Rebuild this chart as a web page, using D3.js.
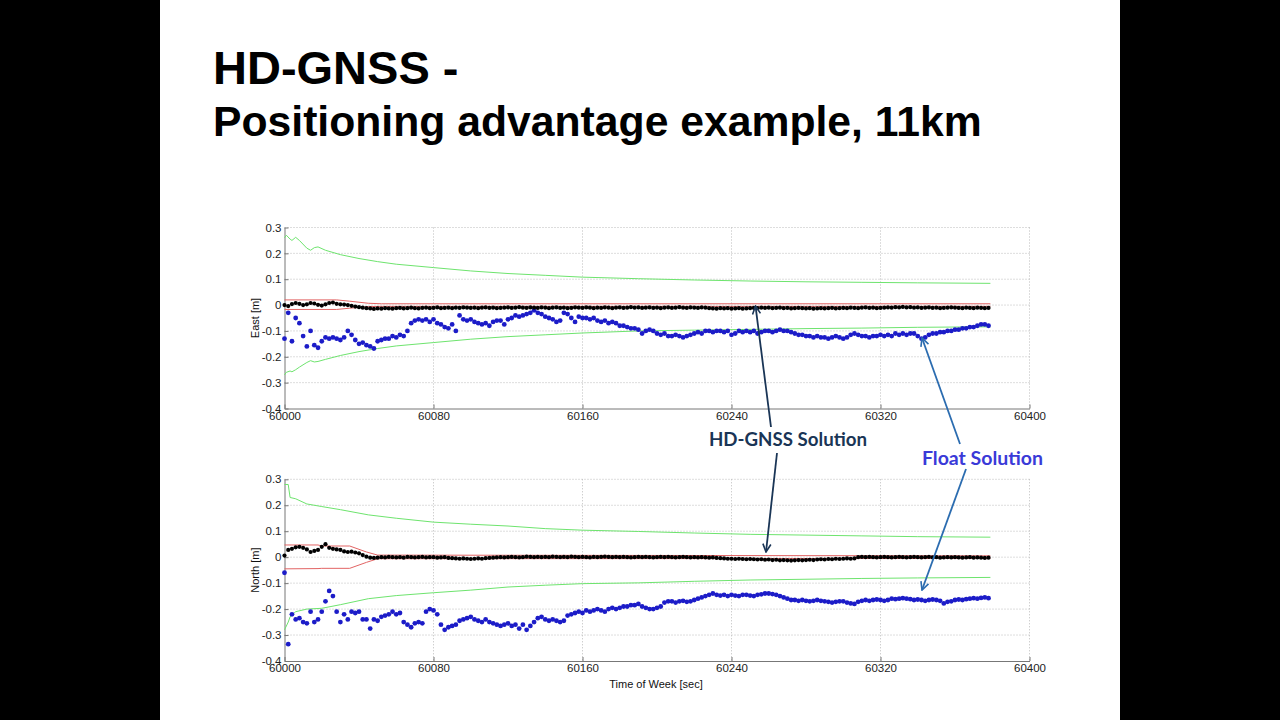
<!DOCTYPE html>
<html>
<head>
<meta charset="utf-8">
<script src="https://cdn.jsdelivr.net/npm/d3@7"></script>
<style>
  body { margin: 0; background: #000; }
  svg { display: block; }
  .tick text { font-family: "Liberation Sans", Arial, sans-serif; font-size: 11.5px; fill: #222; }
  .labels { font-family: "Liberation Sans", Arial, sans-serif; font-size: 11px; fill: #111; }
</style>
</head>
<body>
<div id="vis"></div>
<script>
const W = 1280, H = 720;

// time of week starts at 60000, HD-GNSS and float epochs every 2 s
const t0 = 60000;
const step = 2;

const eastFloat = [
  -0.13, -0.03, -0.14, -0.05, -0.07, -0.12, -0.16, -0.10, -0.155, -0.165,
  -0.14, -0.125, -0.13, -0.125, -0.13, -0.135, -0.125, -0.10, -0.115, -0.135,
  -0.15, -0.145, -0.155, -0.16, -0.168, -0.14, -0.135, -0.13, -0.13, -0.12,
  -0.125, -0.115, -0.12, -0.10, -0.07, -0.06, -0.055, -0.06, -0.055, -0.065,
  -0.055, -0.07, -0.075, -0.085, -0.09, -0.075, -0.10, -0.04, -0.055, -0.06,
  -0.055, -0.065, -0.07, -0.075, -0.07, -0.08, -0.065, -0.06, -0.06, -0.075,
  -0.055, -0.05, -0.04, -0.045, -0.04, -0.035, -0.03, -0.02, -0.03, -0.035,
  -0.045, -0.05, -0.055, -0.065, -0.06, -0.03, -0.035, -0.05, -0.065, -0.045,
  -0.05, -0.05, -0.055, -0.05, -0.06, -0.065, -0.06, -0.07, -0.065, -0.07,
  -0.08, -0.08, -0.085, -0.09, -0.09, -0.095, -0.11, -0.10, -0.095, -0.10,
  -0.11, -0.115, -0.11, -0.12, -0.12, -0.115, -0.12, -0.125, -0.12, -0.115,
  -0.11, -0.105, -0.11, -0.10, -0.10, -0.105, -0.10, -0.10, -0.105, -0.10,
  -0.115, -0.11, -0.10, -0.105, -0.10, -0.105, -0.10, -0.11, -0.105, -0.10,
  -0.10, -0.105, -0.10, -0.095, -0.10, -0.10, -0.105, -0.11, -0.115, -0.115,
  -0.12, -0.12, -0.125, -0.12, -0.125, -0.125, -0.13, -0.125, -0.12, -0.125,
  -0.13, -0.125, -0.115, -0.11, -0.115, -0.12, -0.12, -0.125, -0.12, -0.12,
  -0.115, -0.12, -0.115, -0.12, -0.11, -0.115, -0.11, -0.115, -0.11, -0.11,
  -0.12, -0.13, -0.125, -0.115, -0.11, -0.11, -0.105, -0.105, -0.10, -0.10,
  -0.095, -0.095, -0.09, -0.09, -0.085, -0.085, -0.08, -0.075, -0.075, -0.08
];

const eastHD = [
  0.000, -0.004, 0.004, 0.008, 0.005, 0.000, 0.003, 0.008, 0.006, 0.001,
  -0.002, 0.003, 0.008, 0.010, 0.005, 0.003, 0.002, 0.000, -0.003, -0.006,
  -0.008, -0.010, -0.012, -0.013, -0.015, -0.013, -0.014, -0.012, -0.013, -0.014,
  -0.012, -0.011, -0.013, -0.012, -0.010, -0.012, -0.013, -0.011, -0.010, -0.012,
  -0.011, -0.009, -0.012, -0.011, -0.010, -0.012, -0.010, -0.011, -0.009, -0.010,
  -0.011, -0.010, -0.012, -0.010, -0.009, -0.011, -0.010, -0.012, -0.011, -0.010,
  -0.009, -0.011, -0.010, -0.008, -0.010, -0.011, -0.009, -0.010, -0.011, -0.009,
  -0.010, -0.012, -0.010, -0.009, -0.011, -0.010, -0.012, -0.011, -0.009, -0.010,
  -0.011, -0.009, -0.010, -0.012, -0.010, -0.011, -0.009, -0.010, -0.012, -0.010,
  -0.009, -0.011, -0.010, -0.008, -0.010, -0.009, -0.011, -0.010, -0.009, -0.011,
  -0.010, -0.012, -0.010, -0.009, -0.011, -0.010, -0.008, -0.010, -0.011, -0.009,
  -0.010, -0.011, -0.009, -0.010, -0.012, -0.013, -0.014, -0.012, -0.013, -0.012,
  -0.014, -0.013, -0.012, -0.014, -0.013, -0.012, -0.011, -0.012, -0.010, -0.011,
  -0.010, -0.012, -0.011, -0.010, -0.012, -0.011, -0.013, -0.012, -0.011, -0.012,
  -0.013, -0.012, -0.014, -0.013, -0.012, -0.013, -0.012, -0.011, -0.013, -0.012,
  -0.011, -0.012, -0.010, -0.011, -0.012, -0.010, -0.009, -0.011, -0.010, -0.012,
  -0.011, -0.010, -0.009, -0.010, -0.008, -0.009, -0.007, -0.009, -0.008, -0.010,
  -0.009, -0.011, -0.010, -0.009, -0.011, -0.010, -0.012, -0.011, -0.010, -0.009,
  -0.010, -0.011, -0.012, -0.010, -0.011, -0.012, -0.010, -0.011, -0.012, -0.011
];

const northFloat = [
  -0.06, -0.335, -0.22, -0.24, -0.235, -0.25, -0.255, -0.21, -0.25, -0.24,
  -0.21, -0.17, -0.13, -0.15, -0.21, -0.25, -0.22, -0.24, -0.21, -0.215,
  -0.21, -0.24, -0.24, -0.275, -0.24, -0.245, -0.23, -0.225, -0.22, -0.21,
  -0.22, -0.215, -0.25, -0.26, -0.27, -0.255, -0.25, -0.255, -0.21, -0.20,
  -0.205, -0.22, -0.26, -0.28, -0.27, -0.265, -0.26, -0.245, -0.24, -0.235,
  -0.23, -0.24, -0.245, -0.25, -0.24, -0.25, -0.255, -0.26, -0.265, -0.26,
  -0.255, -0.265, -0.26, -0.275, -0.26, -0.28, -0.265, -0.25, -0.235, -0.23,
  -0.24, -0.245, -0.24, -0.245, -0.25, -0.245, -0.225, -0.22, -0.215, -0.21,
  -0.215, -0.205, -0.21, -0.205, -0.20, -0.205, -0.21, -0.20, -0.195, -0.20,
  -0.195, -0.19, -0.19, -0.185, -0.185, -0.18, -0.19, -0.195, -0.20, -0.20,
  -0.195, -0.19, -0.175, -0.17, -0.17, -0.175, -0.17, -0.168, -0.172, -0.17,
  -0.165, -0.16, -0.155, -0.15, -0.145, -0.14, -0.145, -0.148, -0.145, -0.15,
  -0.145, -0.148, -0.15, -0.145, -0.145, -0.148, -0.15, -0.145, -0.143, -0.14,
  -0.14, -0.142, -0.145, -0.15, -0.155, -0.16, -0.165, -0.165, -0.168, -0.165,
  -0.168, -0.17, -0.168, -0.165, -0.168, -0.17, -0.172, -0.175, -0.172, -0.17,
  -0.17, -0.175, -0.178, -0.18, -0.172, -0.168, -0.165, -0.168, -0.165, -0.163,
  -0.165, -0.168, -0.165, -0.16, -0.162, -0.16, -0.158, -0.16, -0.162, -0.165,
  -0.163, -0.165, -0.168, -0.165, -0.163, -0.165, -0.168, -0.178, -0.172, -0.17,
  -0.165, -0.163, -0.165, -0.162, -0.16, -0.158, -0.16, -0.157, -0.155, -0.158
];

const northHD = [
  0.006, 0.028, 0.032, 0.038, 0.040, 0.036, 0.030, 0.020, 0.024, 0.028,
  0.040, 0.050, 0.036, 0.032, 0.030, 0.028, 0.022, 0.020, 0.021, 0.018,
  0.015, 0.008, 0.002, -0.002, -0.003, -0.002, 0.000, -0.001, 0.001, 0.000,
  -0.001, 0.000, -0.002, 0.001, 0.000, -0.001, 0.000, 0.001, -0.001, 0.000,
  0.000, -0.002, -0.001, 0.000, -0.003, -0.004, -0.005, -0.006, -0.005, -0.006,
  -0.007, -0.006, -0.005, -0.006, -0.004, -0.003, -0.002, -0.001, 0.000, -0.001,
  0.000, 0.001, 0.000, -0.001, 0.000, 0.002, 0.001, 0.000, 0.001, 0.000,
  0.001, 0.000, 0.002, 0.001, 0.000, 0.001, 0.000, 0.002, 0.001, 0.000,
  0.001, 0.000, -0.001, 0.001, 0.000, 0.001, 0.002, 0.001, 0.000, 0.001,
  0.000, 0.001, 0.000, -0.001, 0.000, 0.001, 0.000, 0.001, 0.000, -0.001,
  0.000, 0.001, 0.000, 0.001, 0.000, -0.001, 0.000, 0.001, 0.000, -0.001,
  0.000, -0.001, 0.000, -0.001, -0.002, -0.001, -0.003, -0.004, -0.005, -0.006,
  -0.006, -0.007, -0.006, -0.007, -0.008, -0.007, -0.008, -0.009, -0.008, -0.010,
  -0.009, -0.011, -0.010, -0.012, -0.011, -0.012, -0.013, -0.012, -0.011, -0.012,
  -0.011, -0.010, -0.011, -0.009, -0.008, -0.009, -0.007, -0.008, -0.006, -0.007,
  -0.006, -0.005, -0.006, -0.005, 0.000, 0.001, 0.000, 0.001, 0.000, -0.001,
  0.000, 0.001, 0.000, -0.001, 0.000, 0.001, 0.000, -0.001, 0.000, 0.001,
  0.000, -0.001, 0.000, 0.001, -0.001, 0.000, -0.002, -0.001, 0.000, -0.001,
  0.000, -0.001, -0.002, -0.001, 0.000, -0.002, -0.001, -0.002, -0.003, -0.002
];

// green envelope (seconds after 60000)
const eastEnvT = [0, 1, 3, 4, 6, 8, 12, 14, 16, 18, 22, 30, 40, 50, 60, 80, 100, 120, 140, 160, 190, 220, 250, 280, 310, 340, 379];
const eastGreenUp = [0.26, 0.27, 0.255, 0.25, 0.262, 0.25, 0.22, 0.212, 0.222, 0.225, 0.212, 0.195, 0.18, 0.168, 0.158, 0.145, 0.132, 0.122, 0.115, 0.108, 0.102, 0.097, 0.093, 0.09, 0.088, 0.086, 0.084];
const eastGreenLo = [-0.27, -0.26, -0.255, -0.258, -0.25, -0.24, -0.222, -0.215, -0.22, -0.218, -0.21, -0.195, -0.18, -0.168, -0.158, -0.145, -0.132, -0.122, -0.115, -0.108, -0.1, -0.097, -0.094, -0.091, -0.089, -0.086, -0.084];

const northEnvT = [0, 2, 3, 6, 12, 20, 30, 45, 60, 80, 100, 120, 140, 160, 190, 220, 250, 280, 310, 340, 379];
const northGreenUp = [0.28, 0.28, 0.23, 0.225, 0.205, 0.195, 0.183, 0.163, 0.15, 0.135, 0.127, 0.12, 0.11, 0.104, 0.099, 0.093, 0.088, 0.085, 0.082, 0.079, 0.077];
const northGreenLo = [-0.28, -0.25, -0.23, -0.21, -0.2, -0.197, -0.183, -0.16, -0.148, -0.137, -0.127, -0.115, -0.108, -0.102, -0.099, -0.093, -0.088, -0.085, -0.082, -0.08, -0.078];

// red HD-GNSS envelope
const eastRedT = [0, 28, 35, 45, 52, 379];
const eastRedUp = [0.02, 0.02, 0.015, 0.007, 0.005, 0.005];
const eastRedLo = [-0.017, -0.017, -0.012, -0.006, -0.005, -0.005];

const northRedT = [0, 18, 20, 35, 44, 50, 379];
const northRedUp = [0.047, 0.047, 0.043, 0.043, 0.02, 0.008, 0.005];
const northRedLo = [-0.045, -0.044, -0.043, -0.043, -0.02, -0.006, -0.005];

const xTicks = [60000, 60080, 60160, 60240, 60320, 60400];
const yTicks = [0.3, 0.2, 0.1, 0, -0.1, -0.2, -0.3, -0.4];

const svg = d3.select('#vis')
    .append('svg')
    .attr('width', W)
    .attr('height', H);

svg.append('rect').attr('width', W).attr('height', H).attr('fill', '#000');
svg.append('rect').attr('x', 160).attr('width', 960).attr('height', H).attr('fill', '#fff');

// title
const title = svg.append('g')
    .style('font-family', '"Liberation Sans", Arial, sans-serif')
    .style('font-weight', 'bold')
    .attr('fill', '#000');
title.append('text').attr('x', 213).attr('y', 84).style('font-size', '47px').text('HD-GNSS -');
title.append('text').attr('x', 213).attr('y', 136).style('font-size', '42.7px').text('Positioning advantage example, 11km');

const xScale = d3.scaleLinear().domain([60000, 60400]).range([284.5, 1029.5]);

function panel(top, bottom, yLabel, showXLabel, float, hd, envT, gUp, gLo, redT, rUp, rLo) {
    const yScale = d3.scaleLinear().domain([-0.4, 0.3]).range([bottom, top]);
    const g = svg.append('g');

    // grid
    g.selectAll('.hgrid').data(yTicks.filter(d => d > -0.4)).join('line')
        .attr('x1', xScale(60000)).attr('x2', xScale(60400))
        .attr('y1', d => yScale(d)).attr('y2', d => yScale(d))
        .attr('stroke', '#bbb').attr('stroke-dasharray', '1,2');
    g.selectAll('.vgrid').data(xTicks.slice(1)).join('line')
        .attr('x1', d => xScale(d)).attr('x2', d => xScale(d))
        .attr('y1', top).attr('y2', bottom)
        .attr('stroke', '#bbb').attr('stroke-dasharray', '1,2');

    const xAxis = d3.axisBottom(xScale).tickValues(xTicks).tickFormat(d3.format('d'))
        .tickSizeInner(-4).tickSizeOuter(0).tickPadding(3);
    g.append('g').attr('transform', `translate(0,${bottom})`).call(xAxis)
        .call(a => a.selectAll('line, path').attr('stroke', '#777'));

    const yAxis = d3.axisLeft(yScale).tickValues(yTicks)
        .tickFormat(d => d === 0 ? '0' : d.toFixed(1))
        .tickSizeInner(-4).tickSizeOuter(0).tickPadding(3);
    g.append('g').attr('transform', `translate(${xScale(60000)},0)`).call(yAxis)
        .call(a => a.selectAll('line, path').attr('stroke', '#777'));

    g.append('text').attr('class', 'labels')
        .attr('transform', `translate(259,${(top + bottom) / 2}) rotate(-90)`)
        .attr('text-anchor', 'middle').text(yLabel);

    if (showXLabel) {
        g.append('text').attr('class', 'labels')
            .attr('x', 656).attr('y', bottom + 27)
            .attr('text-anchor', 'middle').text('Time of Week [sec]');
    }

    const line = d3.line().x(d => xScale(t0 + d[0])).y(d => yScale(d[1]));
    [gUp, gLo].forEach(arr => {
        g.append('path').datum(envT.map((t, i) => [t, arr[i]]))
            .attr('d', line).attr('fill', 'none')
            .attr('stroke', '#6ee46e').attr('stroke-width', 1);
    });
    [rUp, rLo].forEach(arr => {
        g.append('path').datum(redT.map((t, i) => [t, arr[i]]))
            .attr('d', line).attr('fill', 'none')
            .attr('stroke', '#e26464').attr('stroke-width', 1);
    });

    g.selectAll('.fl').data(float).join('circle')
        .attr('cx', (d, i) => xScale(t0 + i * step))
        .attr('cy', d => yScale(d))
        .attr('r', 2.4).attr('fill', '#1c1cc8');

    g.selectAll('.hd').data(hd).join('circle')
        .attr('cx', (d, i) => xScale(t0 + i * step))
        .attr('cy', d => yScale(d))
        .attr('r', 2.1).attr('fill', '#000');
}

panel(227.5, 408.5, 'East [m]', false, eastFloat, eastHD, eastEnvT, eastGreenUp, eastGreenLo, eastRedT, eastRedUp, eastRedLo);
panel(479.3, 661, 'North [m]', true, northFloat, northHD, northEnvT, northGreenUp, northGreenLo, northRedT, northRedUp, northRedLo);

// annotations
const defs = svg.append('defs');
[['hdHead', '#1a3556'], ['flHead', '#2b6cb0']].forEach(([id, c]) => {
    defs.append('marker').attr('id', id)
        .attr('viewBox', '0 0 10 10').attr('refX', 9).attr('refY', 5)
        .attr('markerWidth', 10).attr('markerHeight', 10)
        .attr('markerUnits', 'userSpaceOnUse').attr('orient', 'auto')
        .append('path').attr('d', 'M1,1 L9,5 L1,9')
        .attr('fill', 'none').attr('stroke', c).attr('stroke-width', 1.6);
});

const arrows = [
    { x1: 771, y1: 427, x2: 755.5, y2: 306, c: '#1a3556', m: 'hdHead' },
    { x1: 777, y1: 453, x2: 766, y2: 552, c: '#1a3556', m: 'hdHead' },
    { x1: 960, y1: 444, x2: 922, y2: 338, c: '#2b6cb0', m: 'flHead' },
    { x1: 966, y1: 469, x2: 922, y2: 590, c: '#2b6cb0', m: 'flHead' }
];
svg.selectAll('.arrow').data(arrows).join('line')
    .attr('x1', d => d.x1).attr('y1', d => d.y1)
    .attr('x2', d => d.x2).attr('y2', d => d.y2)
    .attr('stroke', d => d.c).attr('stroke-width', 1.8)
    .attr('marker-end', d => `url(#${d.m})`);

svg.append('text').attr('x', 788).attr('y', 446)
    .attr('text-anchor', 'middle')
    .style('font-family', 'Lato, "Open Sans", sans-serif').style('font-weight', 'bold')
    .style('font-size', '18.7px').attr('fill', '#1a3556')
    .text('HD-GNSS Solution');

svg.append('text').attr('x', 982.5).attr('y', 465)
    .attr('text-anchor', 'middle')
    .style('font-family', 'Lato, "Open Sans", sans-serif').style('font-weight', 'bold')
    .style('font-size', '19.5px').attr('fill', '#3a3ad8')
    .text('Float Solution');
</script>
</body>
</html>
